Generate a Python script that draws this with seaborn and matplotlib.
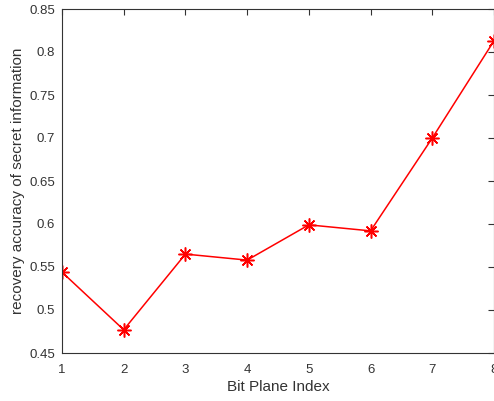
import pandas as pd
import seaborn as sns
import matplotlib.pyplot as plt

bit_plane = [1, 2, 3, 4, 5, 6, 7, 8]
accuracy = [0.544, 0.477, 0.565, 0.558, 0.599, 0.592, 0.700, 0.813]

df = pd.DataFrame({'Bit Plane Index': bit_plane, 'accuracy': accuracy})

sns.set_style('white')
plt.rcParams['font.family'] = ['Liberation Sans', 'DejaVu Sans']

fig = plt.figure(figsize=(4.94, 4.01), dpi=100)
ax = fig.add_axes([62/494, 1-353/401, 1-62/494, (353-9)/401])

# matlab-style asterisk marker (8 spokes)
sns.lineplot(data=df, x='Bit Plane Index', y='accuracy', color='red',
             marker=(8, 2, 0), markersize=10, markeredgecolor='red',
             markeredgewidth=1.1, linewidth=1.1, ax=ax)

ax.set_xlim(1, 8)
ax.set_ylim(0.45, 0.85)
ax.set_xticks(bit_plane)
ax.set_yticks([0.45, 0.5, 0.55, 0.6, 0.65, 0.7, 0.75, 0.8, 0.85])
ax.set_yticklabels(['0.45', '0.5', '0.55', '0.6', '0.65', '0.7', '0.75', '0.8', '0.85'])
ax.tick_params(direction='in', length=4, width=0.8, labelsize=9.5,
               top=True, right=True, colors='#333333', pad=5)
ax.tick_params(axis='x', pad=8)
for s in ax.spines.values():
    s.set_color('#333333')
    s.set_linewidth(0.8)
ax.set_xlabel('Bit Plane Index', fontsize=11, color='#333333', labelpad=3)
ax.set_ylabel('recovery accuracy of secret information', fontsize=11,
              color='#333333', labelpad=3)

fig.savefig('out.png', dpi=100)
